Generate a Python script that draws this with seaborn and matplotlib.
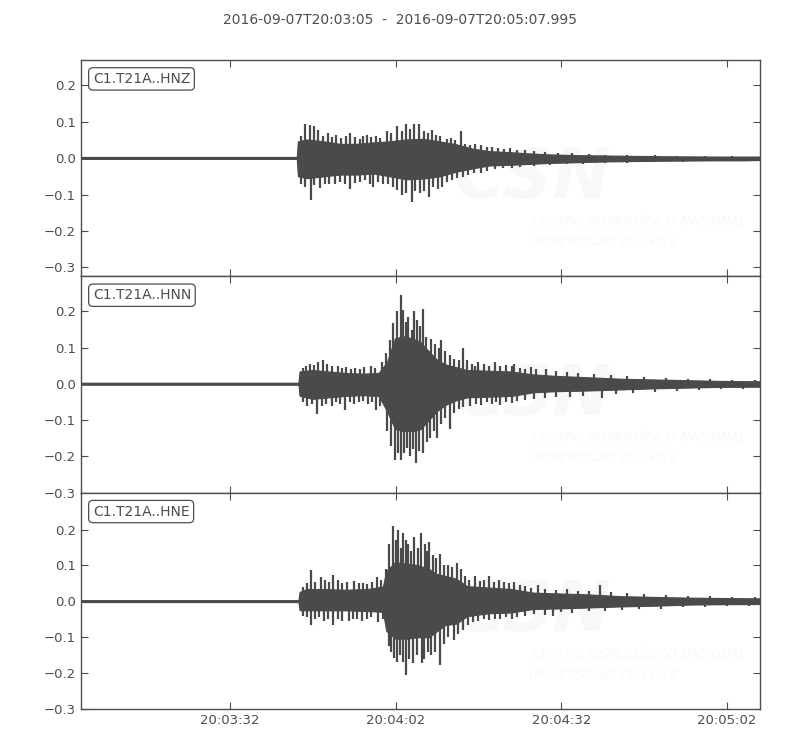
import numpy as np
import pandas as pd
import seaborn as sns
import matplotlib
matplotlib.use("Agg")
import matplotlib.pyplot as plt
import matplotlib.dates as mdates

start = pd.Timestamp("2016-09-07 20:03:05")
end = start + pd.Timedelta(seconds=122.995)
title = "2016-09-07T20:03:05  -  2016-09-07T20:05:07.995"

channels = ["C1.T21A..HNZ", "C1.T21A..HNN", "C1.T21A..HNE"]

# solid core of each trace (seconds after start, upper, lower)
hnz_t = [0, 39.2, 39.4, 41, 44, 47, 50, 53, 56, 59, 62, 65, 68, 71, 74, 78, 81, 85, 90, 95, 100, 105, 110, 115, 120, 123]
hnz_up = [0.002, 0.002, 0.045, 0.05, 0.045, 0.038, 0.038, 0.042, 0.045, 0.05, 0.052, 0.045, 0.037, 0.025, 0.018,
          0.015, 0.012, 0.009, 0.007, 0.006, 0.005, 0.004, 0.0035, 0.003, 0.003, 0.003]
hnz_lo = [-0.002, -0.002, -0.05, -0.055, -0.05, -0.045, -0.045, -0.042, -0.05, -0.058, -0.056, -0.05, -0.037, -0.028,
          -0.02, -0.018, -0.016, -0.013, -0.011, -0.009, -0.008, -0.007, -0.0065, -0.006, -0.006, -0.005]
# peaks sticking out of the core
hnz_spk_up_t = [39.8, 40.6, 41.5, 42.2, 43.0, 43.8, 44.7, 45.5, 46.3, 47.2, 48.0, 48.8, 49.6, 50.5, 51.1, 51.8, 52.6,
                53.4, 54.2, 55.4, 56.2, 57.2, 58.1, 58.9, 59.7, 60.4, 61.3, 62.2, 62.9, 63.6, 64.4, 65.1, 66.3, 67.0,
                67.7, 68.8, 69.6, 70.4, 71.3, 72.5, 73.5, 74.5, 75.6, 76.7, 77.8, 79.0, 80.5, 82, 84, 86.5, 89, 92,
                95, 99, 104, 108, 113, 118]
hnz_spk_up_v = [0.06, 0.095, 0.09, 0.088, 0.077, 0.062, 0.068, 0.058, 0.065, 0.055, 0.06, 0.07, 0.058, 0.052, 0.06,
                0.063, 0.058, 0.062, 0.055, 0.075, 0.068, 0.088, 0.075, 0.095, 0.08, 0.093, 0.095, 0.075, 0.07, 0.077,
                0.065, 0.06, 0.054, 0.055, 0.05, 0.074, 0.04, 0.035, 0.038, 0.035, 0.03, 0.03, 0.028, 0.025, 0.027,
                0.022, 0.022, 0.02, 0.018, 0.015, 0.013, 0.012, 0.01, 0.009, 0.008, 0.007, 0.006, 0.005]
hnz_spk_lo_t = [39.9, 40.6, 41.6, 42.3, 43.3, 44.2, 45.0, 46.0, 47.0, 47.8, 48.8, 49.7, 50.6, 51.5, 52.3, 53.0, 53.8,
                54.7, 55.6, 56.5, 57.3, 58.1, 58.9, 59.9, 60.6, 61.4, 62.2, 63.0, 63.8, 64.6, 65.4, 66.3, 67.2, 68.1,
                69.3, 70.2, 71.2, 72.4, 73.6, 75.0, 76.5, 78.0, 79.5, 82, 85, 88, 91, 95, 99, 104, 109, 114, 119]
hnz_spk_lo_v = [-0.07, -0.078, -0.115, -0.075, -0.083, -0.07, -0.072, -0.07, -0.065, -0.07, -0.086, -0.068, -0.065,
                -0.06, -0.07, -0.078, -0.065, -0.07, -0.072, -0.08, -0.088, -0.101, -0.095, -0.12, -0.09, -0.097,
                -0.09, -0.106, -0.08, -0.085, -0.078, -0.065, -0.06, -0.055, -0.051, -0.045, -0.042, -0.04, -0.035,
                -0.03, -0.028, -0.026, -0.025, -0.022, -0.02, -0.017, -0.016, -0.014, -0.012, -0.011, -0.01, -0.009,
                -0.008]

hnn_t = [0, 39.5, 39.7, 42, 45, 48, 51, 54, 55.5, 57, 58.5, 60, 61.5, 63, 64.5, 66, 68, 70, 74, 78, 82, 86, 92, 98, 104, 110, 116, 123]
hnn_up = [0.002, 0.002, 0.033, 0.037, 0.033, 0.029, 0.027, 0.029, 0.058, 0.125, 0.13, 0.125, 0.115, 0.09, 0.066, 0.053,
          0.045, 0.037, 0.035, 0.033, 0.025, 0.021, 0.017, 0.013, 0.011, 0.009, 0.007, 0.006]
hnn_lo = [-0.002, -0.002, -0.033, -0.041, -0.037, -0.033, -0.031, -0.033, -0.075, -0.125, -0.13, -0.13, -0.125, -0.1,
          -0.075, -0.058, -0.045, -0.037, -0.035, -0.033, -0.023, -0.02, -0.018, -0.015, -0.012, -0.01, -0.008, -0.0075]
hnn_spk_up_t = [40.2, 40.8, 41.5, 42.3, 43.0, 43.9, 44.6, 45.4, 46.5, 47.3, 48.1, 48.9, 49.7, 50.5, 51.3, 52.5, 53.3,
                54.5, 55.3, 56.0, 56.6, 57.2, 57.9, 58.4, 58.9, 59.3, 59.9, 60.3, 60.9, 61.4, 62.0, 62.6, 63.5, 64.2,
                64.8, 65.3, 66.0, 66.8, 67.6, 68.4, 69.2, 70.0, 70.8, 71.4, 72.0, 73.0, 74.0, 75.0, 76.0, 77.0, 78.0,
                78.5, 79.5, 80.5, 81.5, 82.5, 84.3, 86, 88, 90, 93, 96, 99, 102, 106, 110, 114, 118, 122]
hnn_spk_up_v = [0.045, 0.05, 0.055, 0.052, 0.06, 0.067, 0.055, 0.05, 0.05, 0.045, 0.048, 0.04, 0.045, 0.042, 0.048,
                0.05, 0.045, 0.06, 0.085, 0.12, 0.168, 0.2, 0.245, 0.204, 0.17, 0.184, 0.15, 0.2, 0.177, 0.16, 0.207,
                0.13, 0.125, 0.11, 0.1, 0.12, 0.09, 0.08, 0.07, 0.065, 0.098, 0.065, 0.055, 0.05, 0.06, 0.055, 0.05,
                0.06, 0.05, 0.052, 0.05, 0.055, 0.045, 0.042, 0.048, 0.04, 0.04, 0.035, 0.032, 0.03, 0.028, 0.025,
                0.022, 0.02, 0.017, 0.015, 0.013, 0.012, 0.01]
hnn_spk_lo_t = [40.2, 41.0, 41.8, 42.7, 43.6, 44.4, 45.5, 46.3, 47.0, 47.8, 48.7, 49.5, 50.3, 51.1, 52.0, 52.7, 53.4,
                54.2, 55.5, 56.2, 56.9, 57.5, 58.0, 58.5, 59.0, 59.7, 60.2, 60.7, 61.3, 62.0, 62.7, 63.3, 63.9, 64.5,
                65.2, 66.0, 66.8, 67.6, 68.4, 69.3, 70.5, 71.5, 72.5, 73.5, 74.5, 75.2, 76.0, 77.0, 78.0, 79.0, 80.5,
                82, 84, 86, 88.5, 91, 94.3, 97, 100, 104, 108, 112, 116, 120]
hnn_spk_lo_v = [-0.05, -0.06, -0.055, -0.083, -0.06, -0.055, -0.06, -0.05, -0.055, -0.071, -0.05, -0.055, -0.05,
                -0.048, -0.055, -0.05, -0.072, -0.06, -0.13, -0.17, -0.21, -0.19, -0.21, -0.19, -0.176, -0.2, -0.18,
                -0.218, -0.185, -0.19, -0.16, -0.15, -0.13, -0.148, -0.11, -0.095, -0.124, -0.08, -0.07, -0.065,
                -0.06, -0.055, -0.058, -0.05, -0.055, -0.05, -0.058, -0.05, -0.052, -0.048, -0.045, -0.042, -0.04,
                -0.036, -0.035, -0.032, -0.04, -0.028, -0.025, -0.022, -0.02, -0.017, -0.015, -0.013]

hne_t = [0, 39.5, 39.7, 41, 44, 48, 52, 54.8, 55.4, 57, 59, 61, 63, 64.5, 66, 68, 70, 74, 78, 82, 86, 92, 98, 104, 110, 116, 123]
hne_up = [0.002, 0.002, 0.025, 0.033, 0.033, 0.031, 0.033, 0.04, 0.083, 0.108, 0.104, 0.1, 0.09, 0.075, 0.07, 0.062,
          0.041, 0.037, 0.033, 0.023, 0.021, 0.018, 0.013, 0.011, 0.009, 0.008, 0.007]
hne_lo = [-0.002, -0.002, -0.025, -0.025, -0.025, -0.025, -0.027, -0.029, -0.083, -0.104, -0.104, -0.1, -0.1, -0.083,
          -0.066, -0.062, -0.041, -0.033, -0.031, -0.021, -0.02, -0.017, -0.014, -0.012, -0.009, -0.008, -0.0075]
hne_spk_up_t = [40.3, 41.0, 41.6, 42.4, 43.5, 44.3, 45.0, 45.7, 46.5, 47.3, 48.2, 49.5, 50.3, 51.1, 51.9, 52.7, 53.6,
                54.4, 55.2, 55.9, 56.5, 57.0, 57.5, 58.0, 58.4, 58.9, 59.3, 59.8, 60.4, 61.0, 61.6, 62.3, 62.7, 63.1,
                63.8, 64.4, 65.0, 65.7, 66.5, 67.2, 68.1, 68.8, 69.5, 70.3, 71.4, 72.2, 73.1, 74.0, 74.9, 75.8, 76.6,
                77.5, 78.5, 79.5, 80.5, 81.5, 82.8, 84, 86, 88, 90, 92, 94.0, 96, 99, 102, 106, 110, 114, 118, 122]
hne_spk_up_v = [0.04, 0.05, 0.086, 0.055, 0.068, 0.06, 0.055, 0.074, 0.06, 0.05, 0.055, 0.056, 0.05, 0.052, 0.048,
                0.055, 0.068, 0.06, 0.09, 0.16, 0.211, 0.17, 0.2, 0.15, 0.19, 0.17, 0.16, 0.14, 0.18, 0.15, 0.19, 0.16,
                0.14, 0.165, 0.13, 0.12, 0.133, 0.1, 0.1, 0.095, 0.107, 0.09, 0.07, 0.06, 0.07, 0.058, 0.06, 0.07,
                0.055, 0.06, 0.055, 0.05, 0.055, 0.045, 0.042, 0.038, 0.045, 0.035, 0.033, 0.035, 0.03, 0.03, 0.045,
                0.025, 0.022, 0.02, 0.018, 0.015, 0.014, 0.013, 0.011]
hne_spk_lo_t = [40.3, 41.0, 41.6, 42.4, 43.2, 44.0, 44.8, 45.7, 46.5, 47.3, 48.5, 49.3, 50.1, 51.0, 51.8, 52.6, 53.9,
                54.7, 55.8, 56.2, 56.7, 57.2, 57.8, 58.3, 58.9, 59.5, 60.2, 60.8, 61.7, 62.2, 62.9, 63.5, 64.2, 65.0,
                65.7, 66.5, 67.5, 68.3, 69.2, 70.1, 71.0, 72.0, 73.0, 74.0, 75.0, 76.0, 77.0, 78.0, 79.0, 80.5, 82,
                84, 85.5, 87, 89, 92, 95, 98, 101, 105, 109, 113, 117, 121]
hne_spk_lo_v = [-0.04, -0.045, -0.067, -0.05, -0.045, -0.055, -0.05, -0.065, -0.05, -0.055, -0.055, -0.05, -0.048,
                -0.055, -0.05, -0.045, -0.058, -0.05, -0.125, -0.14, -0.159, -0.17, -0.15, -0.17, -0.205, -0.16,
                -0.173, -0.15, -0.173, -0.16, -0.14, -0.15, -0.14, -0.178, -0.12, -0.1, -0.108, -0.09, -0.08, -0.065,
                -0.057, -0.055, -0.05, -0.052, -0.048, -0.05, -0.045, -0.048, -0.045, -0.04, -0.035, -0.038, -0.04,
                -0.03, -0.032, -0.028, -0.026, -0.024, -0.022, -0.02, -0.017, -0.015, -0.013, -0.012]

ylims = [(-0.325, 0.27), (-0.30, 0.297), (-0.30, 0.303)]
yticks = [-0.3, -0.2, -0.1, 0.0, 0.1, 0.2]

traces = [
    (hnz_t, hnz_up, hnz_lo, hnz_spk_up_t, hnz_spk_up_v, hnz_spk_lo_t, hnz_spk_lo_v),
    (hnn_t, hnn_up, hnn_lo, hnn_spk_up_t, hnn_spk_up_v, hnn_spk_lo_t, hnn_spk_lo_v),
    (hne_t, hne_up, hne_lo, hne_spk_up_t, hne_spk_up_v, hne_spk_lo_t, hne_spk_lo_v),
]

sns.set_style("ticks")
plt.rcParams["font.family"] = ["DejaVu Sans"]

wave = "#4a4a4a"
grey = "#4d4d4d"
mark = "#f8f8f8"

def when(sec):
    return start + pd.to_timedelta(np.asarray(sec, dtype=float), unit="s")

fig, axes = plt.subplots(3, 1, figsize=(8, 7.5), dpi=100, sharex=True)
fig.subplots_adjust(left=0.101, right=0.95, top=0.92, bottom=0.0547, hspace=0)

for ax, name, tr, yl in zip(axes, channels, traces, ylims):
    t, up, lo, sut, suv, slt, slv = tr

    # faint CSN watermark
    ax.text(0.55, 0.45, "CSN", transform=ax.transAxes, fontsize=50, fontweight="bold",
            style="italic", color=mark, ha="left", va="center", zorder=0)
    ax.text(0.665, 0.253, "CENTRO SISMOLÓGICO NACIONAL", transform=ax.transAxes, fontsize=9,
            style="italic", color=mark, ha="left", va="center", zorder=0)
    ax.text(0.66, 0.157, "UNIVERSIDAD DE CHILE", transform=ax.transAxes, fontsize=9,
            style="italic", color=mark, ha="left", va="center", zorder=0)

    tt = when(t)
    ax.fill_between(tt, lo, up, color=wave, lw=0.8, zorder=2)
    sns.lineplot(x=tt, y=up, ax=ax, color=wave, lw=0.8, estimator=None, zorder=2)
    sns.lineplot(x=tt, y=lo, ax=ax, color=wave, lw=0.8, estimator=None, zorder=2)
    ax.vlines(when(sut), 0, suv, color=wave, lw=1.6, zorder=2)
    ax.vlines(when(slt), 0, slv, color=wave, lw=1.6, zorder=2)

    ax.set_ylim(*yl)
    ax.set_yticks(yticks)
    ax.set_xlim(start, end)
    ax.set_xlabel("")
    ax.set_ylabel("")

    ax.text(0.0177, 0.945, name, transform=ax.transAxes, ha="left", va="top", fontsize=10,
            color=grey, zorder=5,
            bbox=dict(boxstyle="round,pad=0.3", fc="white", ec=grey, lw=0.9))

    ax.tick_params(direction="in", top=True, right=True, length=5, width=0.8,
                   color=grey, labelcolor=grey, labelsize=9.5)
    for s in ax.spines.values():
        s.set_color(grey)
        s.set_linewidth(1.0)

axes[-1].xaxis.set_major_locator(mdates.SecondLocator(bysecond=[2, 32]))
axes[-1].xaxis.set_major_formatter(mdates.DateFormatter("%H:%M:%S"))

fig.suptitle(title, y=0.973, va="center", fontsize=10, color=grey)

fig.savefig("out.png", dpi=100)
